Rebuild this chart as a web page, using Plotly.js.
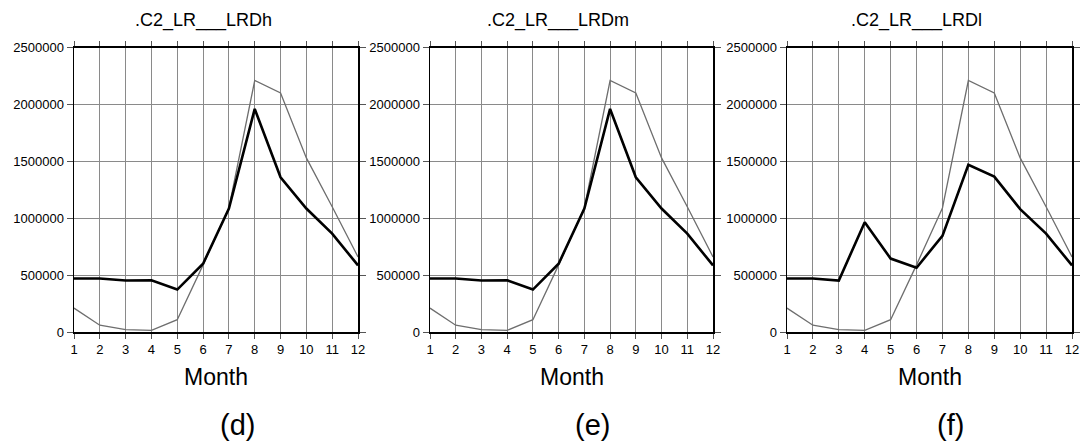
<!DOCTYPE html>
<html>
<head>
<meta charset="utf-8">
<script src="https://cdn.plot.ly/plotly-3.0.1.min.js"></script>
<style>html,body{margin:0;padding:0;background:#fff;}#chart{width:1082px;height:445px;}</style>
</head>
<body>
<div id="chart"></div>
<script>
const months = [1,2,3,4,5,6,7,8,9,10,11,12];
const reference = [210000, 60000, 20000, 15000, 108000, 590000, 1090000, 2210000, 2100000, 1530000, 1100000, 660000];
const seriesD = [470000, 470000, 452000, 455000, 373000, 600000, 1085000, 1960000, 1360000, 1085000, 865000, 585000];
const seriesE = [470000, 470000, 452000, 455000, 373000, 600000, 1085000, 1960000, 1360000, 1085000, 865000, 585000];
const seriesF = [470000, 470000, 452000, 965000, 645000, 565000, 845000, 1470000, 1365000, 1080000, 865000, 585000];
const panelTitles = ['.C2_LR___LRDh', '.C2_LR___LRDm', '.C2_LR___LRDl'];
const panelLabels = ['(d)', '(e)', '(f)'];
const yTicks = [0, 500000, 1000000, 1500000, 2000000, 2500000];

const W = 1082, H = 445;
const xDomains = [[74/W, 358/W], [430/W, 713/W], [787/W, 1072/W]];
const yDomain = [(H-332)/H, (H-47.5)/H];
const font = "Liberation Sans, Arial, Helvetica, sans-serif";
const series = [seriesD, seriesE, seriesF];

const traces = [];
const layout = {
  width: W, height: H,
  margin: {l:0, r:0, t:0, b:0},
  paper_bgcolor: '#fff', plot_bgcolor: '#fff',
  showlegend: false,
  font: {family: font, color: '#000'},
  annotations: []
};

series.forEach((s, i) => {
  const n = i === 0 ? '' : String(i+1);
  traces.push({x: months, y: reference, type: 'scatter', mode: 'lines',
    line: {color: '#6e6e6e', width: 1.3}, xaxis: 'x'+n, yaxis: 'y'+n, hoverinfo: 'skip'});
  traces.push({x: months, y: s, type: 'scatter', mode: 'lines',
    line: {color: '#000', width: 2.6}, xaxis: 'x'+n, yaxis: 'y'+n, hoverinfo: 'skip'});
  const ax = {
    domain: xDomains[i], range: [1, 12], tickvals: months, ticktext: months.map(String),
    showgrid: true, gridcolor: '#8a8a8a', gridwidth: 1, zeroline: false,
    showline: true, linecolor: '#000', linewidth: 1.5, mirror: 'allticks',
    ticks: 'outside', ticklen: 5, tickcolor: '#555', tickwidth: 1,
    tickfont: {family: font, size: 13, color: '#000'}, anchor: 'y'+n, fixedrange: true
  };
  const ay = {
    domain: yDomain, range: [0, 2500000], tickvals: yTicks, ticktext: yTicks.map(String),
    showgrid: true, gridcolor: '#8a8a8a', gridwidth: 1, zeroline: false,
    showline: true, linecolor: '#000', linewidth: 1.5, mirror: 'allticks',
    ticks: 'outside', ticklen: 6, tickcolor: '#555', tickwidth: 1,
    tickfont: {family: font, size: 13, color: '#000'}, anchor: 'x'+n, fixedrange: true
  };
  layout['xaxis'+n] = ax;
  layout['yaxis'+n] = ay;
  const cx = (xDomains[i][0] + xDomains[i][1]) / 2;
  layout.annotations.push({text: panelTitles[i], xref: 'paper', yref: 'paper',
    x: cx - 13/W, y: 1 - 21/H, xanchor: 'center', yanchor: 'middle', showarrow: false,
    font: {family: font, size: 18, color: '#000'}});
  layout.annotations.push({text: 'Month', xref: 'paper', yref: 'paper',
    x: cx, y: 1 - 377/H, xanchor: 'center', yanchor: 'middle', showarrow: false,
    font: {family: font, size: 23, color: '#000'}});
  layout.annotations.push({text: panelLabels[i], xref: 'paper', yref: 'paper',
    x: cx + 21/W, y: 1 - 425/H, xanchor: 'center', yanchor: 'middle', showarrow: false,
    font: {family: font, size: 29, color: '#000'}});
});

Plotly.newPlot('chart', traces, layout, {staticPlot: true, displayModeBar: false});
</script>
</body>
</html>
